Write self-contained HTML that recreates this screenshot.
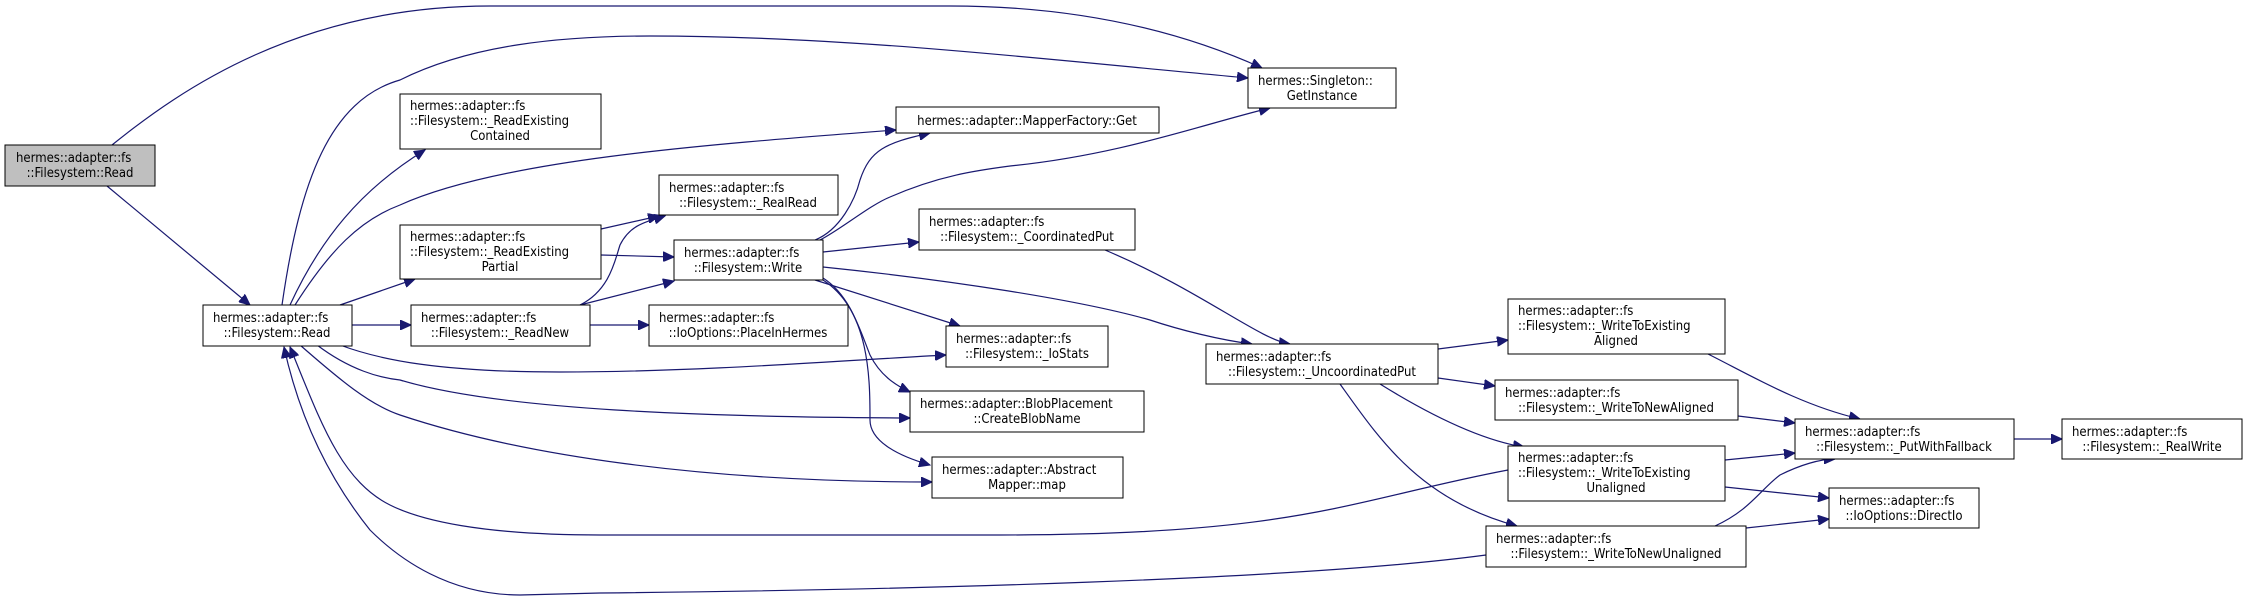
<!DOCTYPE html>
<html><head><meta charset="utf-8"><style>
html,body{margin:0;padding:0;background:#fff;width:2248px;height:602px;overflow:hidden}
svg text{font-family:"DejaVu Sans Condensed","DejaVu Sans","Liberation Sans",sans-serif;font-stretch:condensed;font-size:13px;fill:#000}
</style></head><body>
<svg width="2248" height="602" viewBox="0 0 2248 602" xmlns="http://www.w3.org/2000/svg">
<defs><marker id="a" markerUnits="userSpaceOnUse" markerWidth="12" markerHeight="10" refX="11" refY="5" orient="auto"><path d="M0,0 L11,5 L0,10 Z" fill="#191970" stroke="#191970"/></marker></defs>
<g fill="none" stroke="#191970" stroke-width="1.2" marker-end="url(#a)">
<path d="M112,145 C180,90 300,6 490,6 L950,6 C1100,6 1200,40 1262,68"/>
<path d="M107,186 L250,305"/>
<path d="M282,305 C300,180 330,100 400,80 C470,45 560,36 650,36 C850,36 1050,60 1248,78"/>
<path d="M290,305 C320,240 360,190 425,150"/>
<path d="M295,305 C330,250 360,220 400,205 C500,160 700,145 896,130"/>
<path d="M340,305 L415,279"/>
<path d="M352,325 L411,325"/>
<path d="M340,345 C380,360 440,372 560,372 C700,372 850,360 946,355"/>
<path d="M317,345 C350,370 380,378 400,380 C500,410 700,417 910,418"/>
<path d="M300,345 C340,380 370,405 400,415 C520,455 700,482 932,482"/>
<path d="M1508,470 C1350,500 1300,535 1000,535 L600,535 C480,535 420,520 390,505 C340,480 320,420 290,347"/>
<path d="M1486,555 C1300,580 900,590 600,593 L520,595 C450,595 400,560 370,530 C330,480 300,420 284,347"/>
<path d="M601,229 L659,216"/>
<path d="M601,255 L674,257"/>
<path d="M580,305 C610,290 615,260 620,245 C630,225 645,222 665,216"/>
<path d="M580,305 L674,281"/>
<path d="M590,325 L649,325"/>
<path d="M815,240 C840,230 855,200 860,180 C870,150 885,143 930,133"/>
<path d="M820,240 C840,230 870,205 890,197 C940,175 980,170 1010,166 C1120,155 1200,125 1270,108"/>
<path d="M823,252 L919,242"/>
<path d="M823,267 C950,280 1080,300 1150,320 C1180,330 1220,340 1252,344"/>
<path d="M815,280 L960,326"/>
<path d="M823,278 C850,295 860,330 870,355 C880,375 895,385 910,392"/>
<path d="M823,280 C870,310 870,380 870,420 C870,440 895,455 930,465"/>
<path d="M1105,250 C1200,290 1260,340 1290,344"/>
<path d="M1438,349 L1508,340"/>
<path d="M1438,378 L1495,386"/>
<path d="M1380,384 C1430,415 1480,440 1524,447"/>
<path d="M1340,384 C1380,440 1420,500 1517,526"/>
<path d="M1708,354 C1750,375 1800,405 1860,419"/>
<path d="M1738,416 L1795,423"/>
<path d="M1725,460 L1795,453"/>
<path d="M1725,487 L1829,498"/>
<path d="M1715,526 C1750,510 1760,490 1780,475 C1800,465 1820,459 1835,459"/>
<path d="M1746,528 L1829,519"/>
<path d="M2014,439 L2062,439"/>
</g>
<g stroke="#000" stroke-width="1" fill="#fff">
<rect x="5" y="145" width="150" height="41" fill="#bfbfbf"/>
<rect x="203" y="305" width="149" height="41"/>
<rect x="400" y="94" width="201" height="55"/>
<rect x="400" y="225" width="201" height="54"/>
<rect x="411" y="305" width="179" height="41"/>
<rect x="659" y="175" width="179" height="40"/>
<rect x="674" y="240" width="149" height="40"/>
<rect x="649" y="305" width="199" height="41"/>
<rect x="896" y="107" width="263" height="26"/>
<rect x="1248" y="68" width="148" height="40"/>
<rect x="919" y="209" width="216" height="41"/>
<rect x="946" y="326" width="162" height="41"/>
<rect x="910" y="391" width="234" height="41"/>
<rect x="932" y="457" width="191" height="41"/>
<rect x="1206" y="344" width="232" height="40"/>
<rect x="1508" y="299" width="217" height="55"/>
<rect x="1495" y="380" width="243" height="40"/>
<rect x="1508" y="446" width="217" height="55"/>
<rect x="1486" y="526" width="260" height="41"/>
<rect x="1795" y="419" width="219" height="40"/>
<rect x="2062" y="419" width="180" height="40"/>
<rect x="1829" y="488" width="150" height="40"/>
</g>
<g>
<text x="16" y="162">hermes::adapter::fs</text><text x="80" y="177" text-anchor="middle">::Filesystem::Read</text>
<text x="213" y="322">hermes::adapter::fs</text><text x="277" y="337" text-anchor="middle">::Filesystem::Read</text>
<text x="410" y="110">hermes::adapter::fs</text><text x="410" y="125">::Filesystem::_ReadExisting</text><text x="500" y="140" text-anchor="middle">Contained</text>
<text x="410" y="241">hermes::adapter::fs</text><text x="410" y="256">::Filesystem::_ReadExisting</text><text x="500" y="271" text-anchor="middle">Partial</text>
<text x="421" y="322">hermes::adapter::fs</text><text x="500" y="337" text-anchor="middle">::Filesystem::_ReadNew</text>
<text x="669" y="192">hermes::adapter::fs</text><text x="748" y="207" text-anchor="middle">::Filesystem::_RealRead</text>
<text x="684" y="257">hermes::adapter::fs</text><text x="748" y="272" text-anchor="middle">::Filesystem::Write</text>
<text x="659" y="322">hermes::adapter::fs</text><text x="748" y="337" text-anchor="middle">::IoOptions::PlaceInHermes</text>
<text x="1027" y="125" text-anchor="middle">hermes::adapter::MapperFactory::Get</text>
<text x="1258" y="85">hermes::Singleton::</text><text x="1322" y="100" text-anchor="middle">GetInstance</text>
<text x="929" y="226">hermes::adapter::fs</text><text x="1027" y="241" text-anchor="middle">::Filesystem::_CoordinatedPut</text>
<text x="956" y="343">hermes::adapter::fs</text><text x="1027" y="358" text-anchor="middle">::Filesystem::_IoStats</text>
<text x="920" y="408">hermes::adapter::BlobPlacement</text><text x="1027" y="423" text-anchor="middle">::CreateBlobName</text>
<text x="942" y="474">hermes::adapter::Abstract</text><text x="1027" y="489" text-anchor="middle">Mapper::map</text>
<text x="1216" y="361">hermes::adapter::fs</text><text x="1322" y="376" text-anchor="middle">::Filesystem::_UncoordinatedPut</text>
<text x="1518" y="315">hermes::adapter::fs</text><text x="1518" y="330">::Filesystem::_WriteToExisting</text><text x="1616" y="345" text-anchor="middle">Aligned</text>
<text x="1505" y="397">hermes::adapter::fs</text><text x="1616" y="412" text-anchor="middle">::Filesystem::_WriteToNewAligned</text>
<text x="1518" y="462">hermes::adapter::fs</text><text x="1518" y="477">::Filesystem::_WriteToExisting</text><text x="1616" y="492" text-anchor="middle">Unaligned</text>
<text x="1496" y="543">hermes::adapter::fs</text><text x="1616" y="558" text-anchor="middle">::Filesystem::_WriteToNewUnaligned</text>
<text x="1805" y="436">hermes::adapter::fs</text><text x="1904" y="451" text-anchor="middle">::Filesystem::_PutWithFallback</text>
<text x="2072" y="436">hermes::adapter::fs</text><text x="2152" y="451" text-anchor="middle">::Filesystem::_RealWrite</text>
<text x="1839" y="505">hermes::adapter::fs</text><text x="1904" y="520" text-anchor="middle">::IoOptions::DirectIo</text>
</g>
</svg>
</body></html>
